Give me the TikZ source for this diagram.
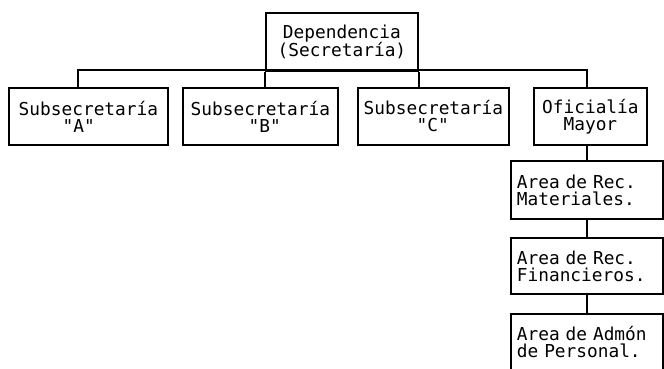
\documentclass[tikz,border=0pt]{standalone}
\usepackage{fontspec}
\setmonofont{DejaVu Sans Mono}
\begin{document}
\begin{tikzpicture}[x=1pt, y=-1pt,
    box/.style={draw, line width=1.8pt, inner sep=0pt, anchor=north west, align=left,
        font=\ttfamily\fontsize{17.8}{17}\selectfont},
    area/.style={box, text width=140pt},
    link/.style={line width=1.8pt}]
            \pgfmathsetmacro{\bary}{70};
            \pgfmathsetmacro{\subh}{57};
            \useasboundingbox (0,0) rectangle (664,369);
            \node [box, align=center, minimum width=152, minimum height=58] (dep) at (265,12) {Dependencia\\(Secretaría)};
            \node [box, minimum width=159, minimum height=\subh] (suba) at (8,87) {Subsecretaría\\\hspace*{44pt}"A"};
            \node [box, minimum width=155, minimum height=\subh] (subb) at (182,87) {Subsecretaría\\\hspace*{58pt}"B"};
            \node [box, minimum width=151, minimum height=\subh] (subc) at (357,87) {Subsecretaría\\\hspace*{53pt}"C"};
            \node [box, align=center, minimum width=113, minimum height=\subh] (ofi) at (533,87) {Oficialía\\Mayor};
            \node [area, minimum width=152, minimum height=58] (mat) at (510,160) {Area de Rec.\\Materiales.};
            \node [area, minimum width=152, minimum height=56] (fin) at (510,237) {Area de Rec.\\Financieros.};
            \node [area, minimum width=152, minimum height=56] (per) at (510,313) {Area de Admón\\de Personal.};
            \coordinate (bara) at (78,\bary);
            \coordinate (baro) at (587,\bary);
            \draw [link] (bara |- suba.north) -- (bara) -- (baro) -- (baro |- ofi.north);
            \draw [link] (dep.south west) -- (dep.south west |- subb.north);
            \draw [link] (dep.south east) -- (dep.south east |- subc.north);
            \draw [link] (mat.north |- ofi.south) -- (mat.north);
            \draw [link] (mat.south) -- (fin.north);
            \draw [link] (fin.south) -- (per.north);
        \end{tikzpicture}
\end{document}
